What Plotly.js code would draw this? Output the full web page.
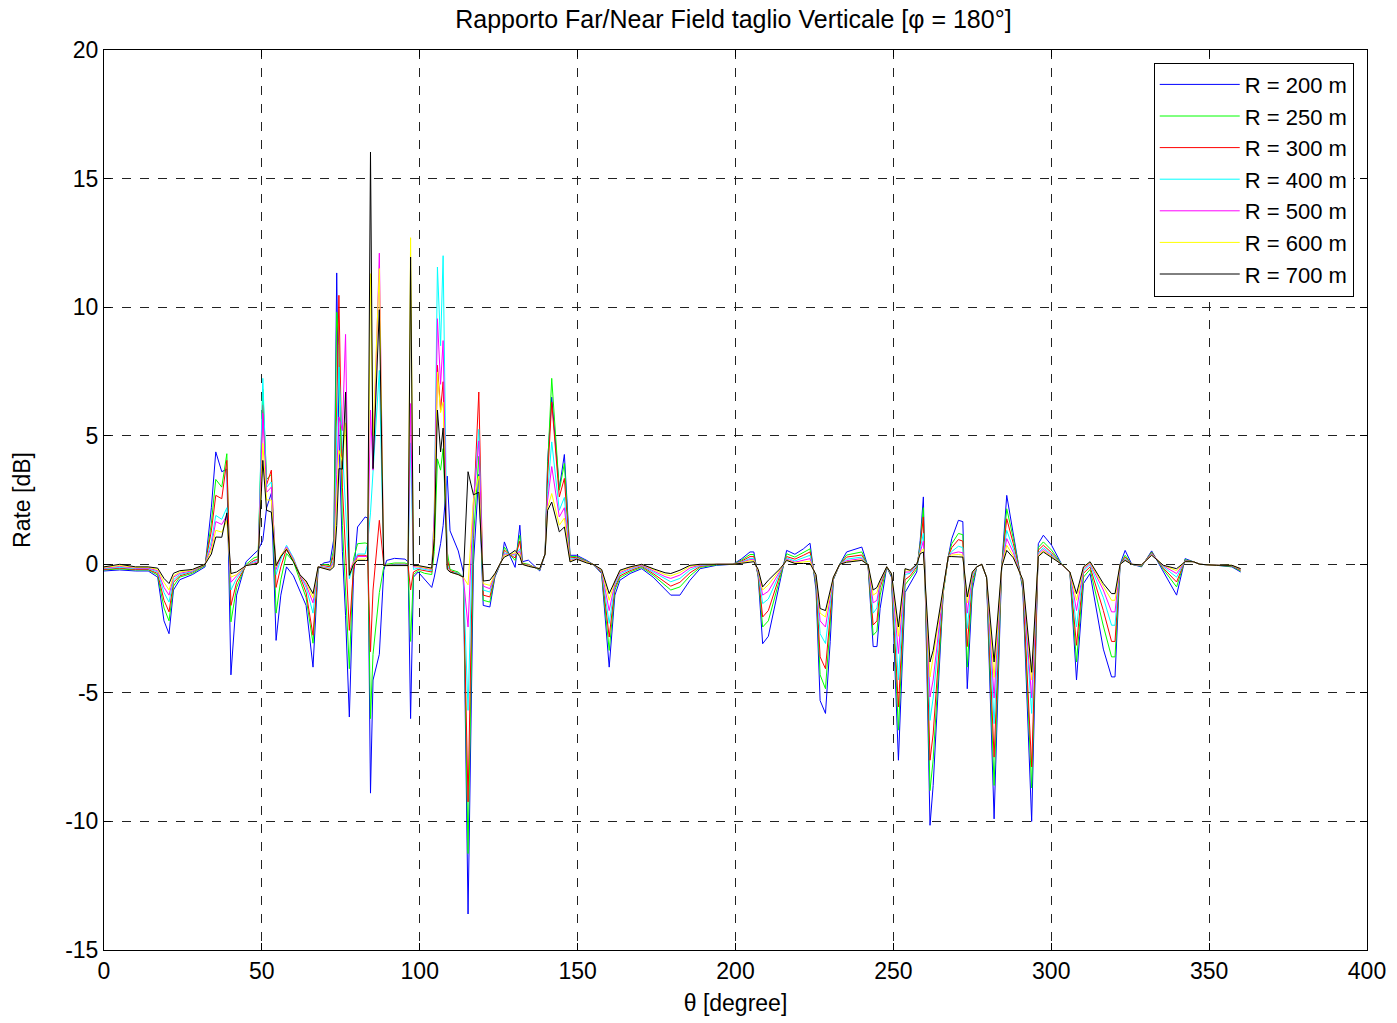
<!DOCTYPE html>
<html><head><meta charset="utf-8">
<script src="https://cdn.plot.ly/plotly-3.0.1.min.js"></script>
<style>body{margin:0;background:#fff}#c{width:1397px;height:1023px}</style>
</head><body><div id="c"></div>
<script>
const theta = [0,5,10,14,17,19,20.6,22,24,28,
32,34,35.4,37.3,38.9,40.2,42,45,47.5,48.8,
50.3,51.5,53,54.5,56,57.8,60,62,64,66.2,
67.8,69.5,71.6,72.8,73.7,74.4,75.5,76.5,77.7,79,
80.3,82.7,83.5,84.4,85.2,87.2,88.6,89.5,92,95.3,
96.3,97.1,98,99.5,101.5,103.8,104.6,105.6,106.6,107.4,
108.7,109.6,112.2,113.8,115.3,117,118.7,120.1,122.2,123.8,
126,126.8,128,130.2,131.7,132.5,134.4,138,139.7,140.5,
141.8,144.2,145.8,147.6,149.7,152.9,154.9,157.6,160,161.8,
163.4,166.6,170.3,173.9,177.7,179.5,182.4,185.6,188.8,194,
199.2,202,204.6,205.8,207.2,208.6,210.4,214.1,216.2,218.8,
221.5,223.6,225.5,226.8,228.5,230,231,233,235.2,240,
242,243.6,244.8,245.8,247.9,249.4,251.6,253.7,255.3,257.4,
258.5,259.5,261.6,262.6,265.8,267.4,268.5,270.6,272,273.4,
275,276.4,278,279.5,281.9,284.3,285.9,288,291,293.8,
295.9,297.5,300.1,303.3,305.9,308,310.2,312.3,316.5,319.1,
320.2,321.8,323.4,325.5,328.6,331.8,335.5,339.7,342.4,345,
347.1,352.4,357.2,360];

const r200 = [-0.26,-0.22,-0.26,-0.26,-0.5,-2.2,-2.7,-1,-0.6,-0.4,
-0.1,2.2,4.37,3.6,3.7,-4.3,-1.2,0.1,0.4,0.55,
0.93,2.2,2.76,-2.96,-1.2,-0.1,-0.45,-1,-1.6,-4,
-0.2,0.05,0.1,1,11.33,5,0.5,-2,-5.94,-0.5,
1.45,1.84,1.8,-8.9,-4.5,-3.5,-0.23,0.15,0.23,0.2,
0.1,-6,-0.5,-0.3,-0.6,-0.9,-0.5,0.15,0.8,1.5,
3.43,1.3,0.52,-0.3,-13.6,0,3.5,-1.6,-1.66,-0.5,
0.15,0.87,0.48,-0.12,1.52,0.1,0.16,-0.26,0.4,4,
6.5,2.94,4.27,0.35,0.35,0.15,0,-0.36,-4,-1.2,
-0.62,-0.36,-0.17,-0.5,-0.95,-1.2,-1.2,-0.62,-0.17,-0.04,
0,0.22,0.48,0.48,-0.5,-3.09,-2.8,-0.62,0.54,0.39,
0.6,0.82,-1,-5.3,-5.8,-3,-0.6,0,0.48,0.67,
-0.1,-3.2,-3.2,-1.72,-0.1,-0.5,-7.62,-1.1,-0.75,-0.3,
0.93,2.62,-10.15,-8.6,-1.1,0.3,1,1.71,1.66,-4.84,
-1,-0.1,0,-0.5,-9.9,-0.1,2.68,1.2,-1,-10,
0.8,1.13,0.74,0,-0.3,-4.5,-0.75,-0.36,-3.3,-4.38,
-4.38,0,0.54,0,-0.1,0.52,-0.3,-1.2,0.22,0.1,
0,-0.04,-0.1,-0.3];

const r250 = [-0.22,-0.18,-0.22,-0.22,-0.42,-1.7,-2.2,-0.85,-0.5,-0.35,
-0.05,1.6,3.3,3,4.3,-2.24,-0.9,0,0.25,0.3,
6.8,3.3,3.5,-1.9,-0.6,0.42,0.1,-0.6,-1.3,-3.07,
-0.15,0,-0.05,0.6,9.8,8.5,1.5,-1,-4.06,0.2,
0.8,0.83,0.8,-6,-3.5,-1.1,-0.1,0,0.05,0.05,
0,-3,-0.4,-0.25,-0.35,-0.4,0.5,4.1,3.66,4.5,
0.5,-0.2,-0.3,-0.5,-11.25,1,4.2,-1.4,-1.47,-0.45,
0.15,0.67,0.45,0.15,1.13,0.05,0,-0.22,0.4,3.8,
7.23,2.88,3.92,0.3,0.3,0.12,0,-0.33,-3.35,-1,
-0.52,-0.3,-0.12,-0.42,-0.8,-1,-0.88,-0.45,-0.12,-0.02,
0,0.17,0.38,0.38,-0.45,-2.44,-2.2,-0.5,0.41,0.28,
0.45,0.6,-0.8,-4.3,-4.84,-2.4,-0.58,0,0.36,0.48,
-0.08,-2.76,-2.6,-1.2,-0.1,-0.45,-6.45,-0.8,-0.55,-0.2,
0.8,2.2,-8.8,-7.6,-1.1,0.3,0.8,1.2,1.15,-4,
-0.8,-0.1,0,-0.5,-8.6,-0.1,2.16,1,-0.9,-8.7,
0.65,0.87,0.55,0,-0.3,-3.8,-0.5,-0.2,-2.4,-3.6,
-3.6,0,0.35,0,-0.08,0.48,-0.2,-0.88,0.18,0.1,
0,-0.04,-0.08,-0.26];

const r300 = [-0.2,-0.15,-0.2,-0.2,-0.36,-1.4,-1.85,-0.7,-0.45,-0.3,
-0.02,1.3,2.68,2.55,4.04,-1.6,-0.7,-0.05,0.15,0.2,
6.2,3.1,3.66,-0.9,-0.1,0.6,0.2,-0.45,-1.1,-2.76,
-0.1,-0.05,-0.1,0.4,7,10.46,3,0.5,-2.57,-0.2,
0.35,0.35,0.3,-3.4,-1,1.71,0,-0.05,0,0,
-0.05,-1,-0.3,-0.2,-0.25,-0.3,1,7.74,6,7.1,
0.2,-0.25,-0.35,-0.5,-9.24,2,6.7,-1.2,-1.27,-0.42,
0.15,0.55,0.42,0.25,0.9,0.02,-0.02,-0.2,0.4,3.4,
6.31,2.62,3.34,0.25,0.27,0.1,0,-0.3,-2.83,-0.9,
-0.45,-0.25,-0.08,-0.36,-0.68,-0.85,-0.7,-0.33,-0.08,0,
0,0.13,0.3,0.3,-0.4,-2.05,-1.8,-0.4,0.3,0.2,
0.35,0.48,-0.7,-3.6,-4.06,-2,-0.56,0,0.28,0.36,
-0.06,-2.36,-2.2,-0.9,-0.1,-0.42,-5.55,-0.6,-0.45,-0.1,
0.7,1.84,-7.62,-6.6,-1,0.3,0.65,0.96,0.9,-3.2,
-0.6,-0.1,0,-0.5,-7.5,-0.1,1.77,0.8,-0.8,-7.88,
0.55,0.74,0.45,0,-0.3,-3.15,-0.35,-0.1,-1.8,-3,
-3,0,0.28,0,-0.06,0.45,-0.15,-0.69,0.15,0.1,
0,-0.04,-0.06,-0.23];

const r400 = [-0.17,-0.12,-0.17,-0.17,-0.3,-1.1,-1.47,-0.6,-0.4,-0.28,
0,0.9,1.9,1.75,2.2,-1,-0.55,-0.05,0.1,0.15,
7.23,3,3.2,-0.4,0.2,0.74,0.25,-0.4,-0.9,-1.9,
-0.1,-0.1,-0.15,0.2,5,7.67,4.5,2,-0.56,0,
0.4,0.4,0.8,2,3.5,7.54,-0.05,-0.05,-0.02,-0.02,
-0.05,4.72,-0.2,-0.15,-0.2,-0.25,2,11.56,8.5,12,
0,-0.3,-0.35,-0.5,-5.68,2.3,5.25,-1,-1.08,-0.4,
0.15,0.45,0.4,0.35,0.6,0,-0.04,-0.19,0.4,2.8,
4.76,2.1,2.6,0.2,0.24,0.08,0,-0.27,-2.3,-0.8,
-0.38,-0.2,-0.05,-0.3,-0.57,-0.68,-0.55,-0.22,-0.05,0,
0,0.1,0.23,0.23,-0.35,-1.53,-1.35,-0.32,0.25,0.13,
0.25,0.35,-0.6,-2.7,-3.08,-1.6,-0.54,0,0.2,0.28,
-0.04,-1.9,-1.7,-0.75,-0.1,-0.4,-4.5,-0.4,-0.35,-0.05,
0.6,1.2,-6.07,-5.2,-1,0.3,0.5,0.7,0.65,-2.5,
-0.5,-0.1,0,-0.5,-6.2,-0.1,1.32,0.6,-0.75,-5.8,
0.45,0.65,0.38,0,-0.3,-2.44,-0.25,-0.02,-1.3,-2.37,
-2.37,0,0.22,0,-0.05,0.42,-0.1,-0.5,0.13,0.1,
0,-0.04,-0.05,-0.2];

const r500 = [-0.15,-0.08,-0.15,-0.15,-0.25,-0.9,-1.2,-0.5,-0.35,-0.25,
0,0.7,1.66,1.55,1.9,-0.7,-0.45,-0.05,0.05,0.1,
5.87,2.8,3,-0.2,0.3,0.68,0.2,-0.4,-0.8,-1.5,
-0.1,-0.12,-0.18,0.1,3.5,5.73,5.2,8.94,-0.3,0.1,
0.3,0.3,0.3,6,3.66,12.1,-0.05,-0.05,-0.03,-0.03,
-0.05,6.25,-0.1,-0.1,-0.15,-0.2,2,9.55,7,8.7,
-0.1,-0.3,-0.4,-0.5,-2.44,2.4,4.8,-0.85,-0.95,-0.38,
0.15,0.4,0.38,0.4,0.5,0,-0.05,-0.18,0.4,2.5,
3.8,1.84,2.2,0.15,0.22,0.07,0,-0.25,-1.8,-0.72,
-0.32,-0.16,-0.03,-0.25,-0.48,-0.55,-0.42,-0.14,-0.03,0,
0,0.08,0.18,0.18,-0.3,-1.2,-1.05,-0.26,0.2,0.08,
0.15,0.22,-0.5,-2.2,-2.44,-1.3,-0.52,0,0.14,0.22,
-0.03,-1.5,-1.4,-0.7,-0.1,-0.38,-3.47,-0.3,-0.3,0,
0.5,0.9,-5.16,-4.5,-1,0.3,0.42,0.48,0.45,-1.9,
-0.4,-0.1,0,-0.5,-5.2,-0.1,1,0.45,-0.7,-5.2,
0.4,0.58,0.33,0,-0.3,-1.8,-0.18,0.03,-1,-1.85,
-1.85,0,0.18,0,-0.04,0.4,-0.06,-0.36,0.12,0.1,
0,-0.04,-0.05,-0.19];

const r600 = [-0.12,-0.05,-0.12,-0.12,-0.2,-0.7,-1,-0.45,-0.3,-0.22,
0,0.55,1.32,1.25,1.7,-0.5,-0.4,-0.05,0.02,0.05,
4.7,2.5,2.5,-0.1,0.35,0.62,0.15,-0.4,-0.7,-1.3,
-0.1,-0.15,-0.2,0,2.5,4.43,4,5.5,-0.4,0.05,
0.2,0.2,0.3,11.3,5,11.5,-0.05,-0.05,-0.04,-0.04,
-0.05,12.7,-0.05,-0.08,-0.12,-0.18,1.5,7.48,5.9,6.3,
-0.15,-0.3,-0.4,-0.5,-0.8,2.5,3.43,-0.75,-0.82,-0.37,
0.15,0.35,0.36,0.45,0.4,0,-0.06,-0.17,0.4,2.2,
2.75,1.52,1.8,0.12,0.2,0.06,0,-0.22,-1.4,-0.66,
-0.27,-0.13,-0.01,-0.2,-0.4,-0.45,-0.32,-0.08,-0.01,0,
0,0.06,0.14,0.14,-0.25,-1,-0.8,-0.21,0.17,0.05,
0.08,0.12,-0.45,-1.9,-2.05,-1.1,-0.51,0,0.1,0.18,
-0.02,-1.2,-1.1,-0.65,-0.1,-0.37,-2.8,-0.2,-0.25,0,
0.45,0.6,-4.38,-3.6,-1,0.3,0.36,0.38,0.35,-1.5,
-0.35,-0.1,0,-0.5,-4.4,-0.1,0.74,0.32,-0.65,-4.5,
0.35,0.52,0.3,0,-0.3,-1.4,-0.13,0.07,-0.85,-1.4,
-1.4,0,0.16,0,-0.03,0.37,-0.04,-0.25,0.11,0.1,
0,-0.04,-0.04,-0.18];

const r700 = [-0.1,0,-0.1,-0.1,-0.15,-0.55,-0.75,-0.35,-0.25,-0.2,
0,0.4,1.06,1.05,2,-0.36,-0.3,-0.05,0,0.05,
4.04,2.1,2.03,-0.05,0.3,0.58,0.1,-0.4,-0.65,-1.14,
-0.1,-0.17,-0.23,-0.1,1.5,3.72,3.7,6.7,-0.43,0,
0.15,0.15,0.15,16.03,3.72,9.9,-0.05,-0.05,-0.05,-0.05,
-0.05,11.95,-0.05,-0.05,-0.1,-0.15,1,6,4.37,5.3,
-0.2,-0.3,-0.4,-0.5,3.6,2.7,2.8,-0.65,-0.62,-0.36,
0.15,0.28,0.35,0.54,0.3,0,-0.08,-0.17,0.4,2.1,
2.42,1.26,1.45,0.09,0.2,0.05,0,-0.2,-1.14,-0.62,
-0.23,-0.1,0,-0.17,-0.33,-0.36,-0.23,-0.04,0,0,
0,0.04,0.1,0.1,-0.2,-0.88,-0.62,-0.17,0.15,0.03,
0.03,0.03,-0.4,-1.72,-1.8,-1,-0.5,0,0.08,0.15,
-0.02,-1,-0.9,-0.62,-0.1,-0.36,-2.44,-0.17,-0.23,0,
0.41,0.48,-3.8,-3.35,-1,0.3,0.3,0.3,0.28,-1.27,
-0.3,-0.1,0,-0.5,-3.8,-0.1,0.54,0.25,-0.6,-4.2,
0.3,0.48,0.28,0,-0.3,-1.14,-0.1,0.1,-0.75,-1.14,
-1.14,0,0.15,0,-0.02,0.35,-0.04,-0.17,0.1,0.1,
0,-0.04,-0.04,-0.17];

const seriesNames = ['R = 200 m','R = 250 m','R = 300 m','R = 400 m','R = 500 m','R = 600 m','R = 700 m'];
const seriesValues = [r200, r250, r300, r400, r500, r600, r700];
const seriesColors = ['#0000ff','#00ff00','#ff0000','#00ffff','#ff00ff','#ffff00','#000000'];

const xTickVals = [0,50,100,150,200,250,300,350,400];
const xTickText = ['0','50','100','150','200','250','300','350','400'];
const yTickVals = [-15,-10,-5,0,5,10,15,20];
const yTickText = ['-15','-10','-5','0','5','10','15','20'];

seriesValues.forEach((s,i)=>{ if (s.length !== theta.length) throw new Error('length mismatch '+seriesNames[i]+': '+s.length+' vs '+theta.length); });

const traces = seriesValues.map((v,i)=>({
  x: theta, y: v, type:'scatter', mode:'lines', name: seriesNames[i],
  line:{color: seriesColors[i], width:1}
}));

const axisCommon = {
  showline:true, linecolor:'#000', linewidth:1, mirror:'ticks',
  ticks:'inside', ticklen:7, tickcolor:'#000',
  showgrid:true, gridcolor:'#222', griddash:'dash', gridwidth:1,
  zeroline:false, tickfont:{size:23, color:'#000'}
};

const layout = {
  width:1397, height:1023,
  paper_bgcolor:'#fff', plot_bgcolor:'#fff',
  font:{family:'Liberation Sans, Arial, sans-serif', color:'#000'},
  margin:{l:104, r:30, t:50, b:73},
  title:{text:'Rapporto Far/Near Field taglio Verticale [φ = 180°]', font:{size:25}, x:0.525, xanchor:'center', y:0.99, yanchor:'top'},
  xaxis:Object.assign({}, axisCommon, {range:[0,400], tickmode:'array', tickvals:xTickVals, ticktext:xTickText,
    title:{text:'θ [degree]', font:{size:23}, standoff:12}}),
  yaxis:Object.assign({}, axisCommon, {range:[-15,20], tickmode:'array', tickvals:yTickVals, ticktext:yTickText,
    title:{text:'Rate [dB]', font:{size:23}, standoff:28}}),
  legend:{x:0.9895, xanchor:'right', y:0.986, yanchor:'top',
    bgcolor:'#fff', bordercolor:'#000', borderwidth:1,
    font:{size:22}, tracegroupgap:0, itemwidth:80},
  showlegend:true
};

Plotly.newPlot('c', traces, layout, {displayModeBar:false, staticPlot:true});
</script>
</body></html>
